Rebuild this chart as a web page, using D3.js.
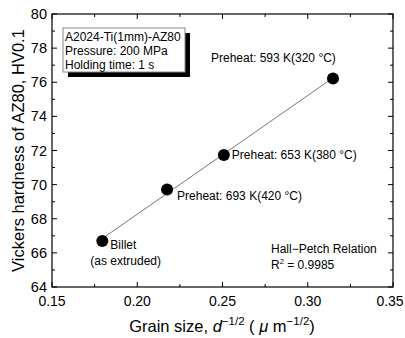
<!DOCTYPE html>
<html>
<head>
<meta charset="utf-8">
<script src="https://cdn.jsdelivr.net/npm/d3@7"></script>
<style>
  body { margin: 0; background: #fff; }
  svg { display: block; font-family: "Liberation Sans", Arial, sans-serif; }
</style>
</head>
<body>
<div id="chart"></div>
<script>
const grainSize = [0.1795, 0.2175, 0.2508, 0.3148];
const hardness = [66.7, 69.72, 71.74, 76.22];
const pointLabels = [
  ["Billet", "(as extruded)"],
  ["Preheat: 693 K(420 \u00b0C)"],
  ["Preheat: 653 K(380 \u00b0C)"],
  ["Preheat: 593 K(320 \u00b0C)"]
];
const labelOffsets = [[8, 8], [10, 11], [8, 4], [-122, -16]];
const xTicks = [0.15, 0.20, 0.25, 0.30, 0.35];
const yTicks = [64, 66, 68, 70, 72, 74, 76, 78, 80];
const boxLines = ["A2024-Ti(1mm)-AZ80", "Pressure: 200 MPa", "Holding time: 1 s"];

const width = 405, height = 338;
const margin = { top: 14, right: 12, bottom: 51, left: 52 };

const svg = d3.select('#chart').append('svg')
  .attr('width', width)
  .attr('height', height);

const x = d3.scaleLinear().domain([0.15, 0.35]).range([margin.left, width - margin.right]);
const y = d3.scaleLinear().domain([64, 80]).range([height - margin.bottom, margin.top]);

const x0 = margin.left, x1 = width - margin.right, y0 = height - margin.bottom, y1 = margin.top;
const minorX = d3.range(0.15, 0.3501, 0.025);
const minorY = d3.range(64, 80.01, 1);

// frame
svg.append('rect')
  .attr('x', x0).attr('y', y1)
  .attr('width', x1 - x0).attr('height', y0 - y1)
  .attr('fill', 'none').attr('stroke', '#000').attr('stroke-width', 1.2);

const tick = svg.append('g').attr('stroke', '#000').attr('stroke-width', 1);
minorX.forEach((v, i) => {
  const len = i % 2 === 0 ? 5 : 3;
  tick.append('line').attr('x1', x(v)).attr('x2', x(v)).attr('y1', y0).attr('y2', y0 - len);
  tick.append('line').attr('x1', x(v)).attr('x2', x(v)).attr('y1', y1).attr('y2', y1 + len);
});
minorY.forEach((v, i) => {
  const len = i % 2 === 0 ? 5 : 3;
  tick.append('line').attr('x1', x0).attr('x2', x0 + len).attr('y1', y(v)).attr('y2', y(v));
  tick.append('line').attr('x1', x1).attr('x2', x1 - len).attr('y1', y(v)).attr('y2', y(v));
});

svg.append('g').selectAll('text')
  .data(xTicks).enter().append('text')
  .attr('x', (d, i) => x(d) - (i === xTicks.length - 1 ? 3 : 0)).attr('y', y0 + 19)
  .attr('text-anchor', 'middle')
  .style('font-size', '14px')
  .text(d => d.toFixed(2));

svg.append('g').selectAll('text')
  .data(yTicks).enter().append('text')
  .attr('x', x0 - 5).attr('y', d => y(d) + 5)
  .attr('text-anchor', 'end')
  .style('font-size', '14.5px')
  .text(d => d);

// axis titles
svg.append('text')
  .attr('transform', `translate(24,${(y0 + y1) / 2}) rotate(-90)`)
  .attr('text-anchor', 'middle')
  .style('font-size', '16.5px')
  .text('Vickers hardness of AZ80, HV0.1');

const xt = svg.append('text')
  .attr('x', 222).attr('y', 332)
  .attr('text-anchor', 'middle')
  .style('font-size', '16.5px');
xt.append('tspan').text('Grain size, ');
xt.append('tspan').style('font-style', 'italic').text('d');
xt.append('tspan').attr('dy', -7).style('font-size', '11.5px').text('\u22121/2');
xt.append('tspan').attr('dy', 7).text(' ( ');
xt.append('tspan').style('font-style', 'italic').text('\u03bc');
xt.append('tspan').text(' m');
xt.append('tspan').attr('dy', -7).style('font-size', '11.5px').text('\u22121/2');
xt.append('tspan').attr('dy', 7).text(')');

// least squares fit line
const mx = d3.mean(grainSize), my = d3.mean(hardness);
const slope = d3.sum(grainSize.map((g, i) => (g - mx) * (hardness[i] - my))) /
  d3.sum(grainSize.map(g => (g - mx) * (g - mx)));
const icpt = my - slope * mx;
const ext = d3.extent(grainSize);
svg.append('line')
  .attr('x1', x(ext[0])).attr('y1', y(icpt + slope * ext[0]))
  .attr('x2', x(ext[1])).attr('y2', y(icpt + slope * ext[1]))
  .attr('stroke', '#777').attr('stroke-width', 1);

svg.append('g').selectAll('circle')
  .data(grainSize).enter().append('circle')
  .attr('cx', d => x(d))
  .attr('cy', (d, i) => y(hardness[i]))
  .attr('r', 6)
  .attr('fill', '#000');

// point labels
pointLabels.forEach((lines, i) => {
  const px = x(grainSize[i]) + labelOffsets[i][0];
  const py = y(hardness[i]) + labelOffsets[i][1];
  lines.forEach((t, j) => {
    svg.append('text')
      .attr('x', i === 0 && j === 1 ? px - 20 : px)
      .attr('y', py + j * 16)
      .style('font-size', '12px')
      .text(t);
  });
});

// info box
const bx = 63, by = 28, bw = 122, bh = 44;
svg.append('rect').attr('x', bx + 5).attr('y', by + 5).attr('width', bw).attr('height', bh).attr('fill', '#000');
svg.append('rect').attr('x', bx).attr('y', by).attr('width', bw).attr('height', bh)
  .attr('fill', '#fff').attr('stroke', '#888').attr('stroke-width', 1);
boxLines.forEach((t, i) => {
  svg.append('text')
    .attr('x', bx + 2).attr('y', by + 13 + i * 14)
    .style('font-size', '12px')
    .text(t);
});

// fit annotation
svg.append('text').attr('x', 271).attr('y', 253).style('font-size', '12px').text('Hall\u2212Petch Relation');
const r2 = svg.append('text').attr('x', 271).attr('y', 269).style('font-size', '12px');
r2.append('tspan').text('R');
r2.append('tspan').attr('dy', -5).style('font-size', '7.5px').text('2');
r2.append('tspan').attr('dy', 5).text(' = 0.9985');
</script>
</body>
</html>
